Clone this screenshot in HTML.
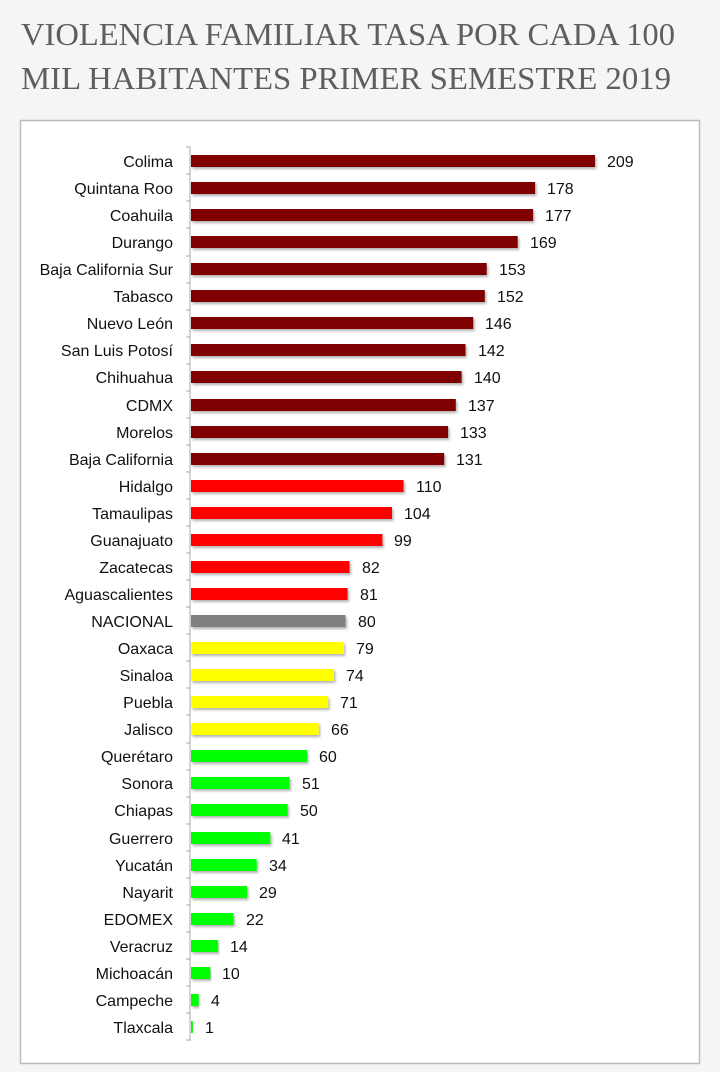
<!DOCTYPE html>
<html><head><meta charset="utf-8"><style>
html,body{margin:0;padding:0;background:#f5f5f5;}
svg{display:block}
</style></head><body>
<svg width="720" height="1072" xmlns="http://www.w3.org/2000/svg">
<defs><filter id="sh" x="-5%" y="-30%" width="110%" height="180%"><feDropShadow dx="1.5" dy="2" stdDeviation="1.2" flood-color="#000" flood-opacity="0.3"/></filter></defs>
<rect width="720" height="1072" fill="#f5f5f5"/>
<g font-family="Liberation Serif, serif" fill="#5e5e5e" font-size="32">
<text x="21" y="45" textLength="654" lengthAdjust="spacingAndGlyphs">VIOLENCIA FAMILIAR TASA POR CADA 100</text>
<text x="21" y="89" textLength="650" lengthAdjust="spacingAndGlyphs">MIL HABITANTES PRIMER SEMESTRE 2019</text>
</g>
<rect x="20.5" y="120.5" width="679" height="943" fill="#fff" stroke="#bbb" stroke-width="1.5"/>
<g stroke="#aaa" stroke-width="1">
<line x1="190" y1="147" x2="190" y2="1041"/>
<path d="M186 147H190M186 174H190M186 201H190M186 228H190M186 256H190M186 283H190M186 310H190M186 337H190M186 364H190M186 391H190M186 418H190M186 445H190M186 472H190M186 499H190M186 526H190M186 553H190M186 580H190M186 607H190M186 634H190M186 661H190M186 688H190M186 715H190M186 743H190M186 770H190M186 797H190M186 824H190M186 851H190M186 878H190M186 905H190M186 932H190M186 959H190M186 986H190M186 1013H190M186 1040H190"/>
</g>
<g font-family="Liberation Sans, sans-serif" font-size="16" fill="#111">
<g transform="translate(0,161)"><rect x="191" y="-6" width="404" height="12" fill="#7f0000" filter="url(#sh)"/><text x="173" y="6" text-anchor="end">Colima</text><text x="607" y="6">209</text></g>
<g transform="translate(0,188)"><rect x="191" y="-6" width="344.1" height="12" fill="#7f0000" filter="url(#sh)"/><text x="173" y="6" text-anchor="end">Quintana Roo</text><text x="547" y="6">178</text></g>
<g transform="translate(0,215)"><rect x="191" y="-6" width="342.1" height="12" fill="#7f0000" filter="url(#sh)"/><text x="173" y="6" text-anchor="end">Coahuila</text><text x="545" y="6">177</text></g>
<g transform="translate(0,242)"><rect x="191" y="-6" width="326.7" height="12" fill="#7f0000" filter="url(#sh)"/><text x="173" y="6" text-anchor="end">Durango</text><text x="530" y="6">169</text></g>
<g transform="translate(0,269)"><rect x="191" y="-6" width="295.7" height="12" fill="#7f0000" filter="url(#sh)"/><text x="173" y="6" text-anchor="end">Baja California Sur</text><text x="499" y="6">153</text></g>
<g transform="translate(0,296)"><rect x="191" y="-6" width="293.8" height="12" fill="#7f0000" filter="url(#sh)"/><text x="173" y="6" text-anchor="end">Tabasco</text><text x="497" y="6">152</text></g>
<g transform="translate(0,323)"><rect x="191" y="-6" width="282.2" height="12" fill="#7f0000" filter="url(#sh)"/><text x="173" y="6" text-anchor="end">Nuevo León</text><text x="485" y="6">146</text></g>
<g transform="translate(0,350)"><rect x="191" y="-6" width="274.5" height="12" fill="#7f0000" filter="url(#sh)"/><text x="173" y="6" text-anchor="end">San Luis Potosí</text><text x="478" y="6">142</text></g>
<g transform="translate(0,377)"><rect x="191" y="-6" width="270.6" height="12" fill="#7f0000" filter="url(#sh)"/><text x="173" y="6" text-anchor="end">Chihuahua</text><text x="474" y="6">140</text></g>
<g transform="translate(0,405)"><rect x="191" y="-6" width="264.8" height="12" fill="#7f0000" filter="url(#sh)"/><text x="173" y="6" text-anchor="end">CDMX</text><text x="468" y="6">137</text></g>
<g transform="translate(0,432)"><rect x="191" y="-6" width="257.1" height="12" fill="#7f0000" filter="url(#sh)"/><text x="173" y="6" text-anchor="end">Morelos</text><text x="460" y="6">133</text></g>
<g transform="translate(0,459)"><rect x="191" y="-6" width="253.2" height="12" fill="#7f0000" filter="url(#sh)"/><text x="173" y="6" text-anchor="end">Baja California</text><text x="456" y="6">131</text></g>
<g transform="translate(0,486)"><rect x="191" y="-6" width="212.6" height="12" fill="#ff0000" filter="url(#sh)"/><text x="173" y="6" text-anchor="end">Hidalgo</text><text x="416" y="6">110</text></g>
<g transform="translate(0,513)"><rect x="191" y="-6" width="201" height="12" fill="#ff0000" filter="url(#sh)"/><text x="173" y="6" text-anchor="end">Tamaulipas</text><text x="404" y="6">104</text></g>
<g transform="translate(0,540)"><rect x="191" y="-6" width="191.4" height="12" fill="#ff0000" filter="url(#sh)"/><text x="173" y="6" text-anchor="end">Guanajuato</text><text x="394" y="6">99</text></g>
<g transform="translate(0,567)"><rect x="191" y="-6" width="158.5" height="12" fill="#ff0000" filter="url(#sh)"/><text x="173" y="6" text-anchor="end">Zacatecas</text><text x="362" y="6">82</text></g>
<g transform="translate(0,594)"><rect x="191" y="-6" width="156.6" height="12" fill="#ff0000" filter="url(#sh)"/><text x="173" y="6" text-anchor="end">Aguascalientes</text><text x="360" y="6">81</text></g>
<g transform="translate(0,621)"><rect x="191" y="-6" width="154.6" height="12" fill="#808080" filter="url(#sh)"/><text x="173" y="6" text-anchor="end">NACIONAL</text><text x="358" y="6">80</text></g>
<g transform="translate(0,648)"><rect x="191" y="-6" width="152.7" height="12" fill="#ffff00" filter="url(#sh)"/><text x="173" y="6" text-anchor="end">Oaxaca</text><text x="356" y="6">79</text></g>
<g transform="translate(0,675)"><rect x="191" y="-6" width="143" height="12" fill="#ffff00" filter="url(#sh)"/><text x="173" y="6" text-anchor="end">Sinaloa</text><text x="346" y="6">74</text></g>
<g transform="translate(0,702)"><rect x="191" y="-6" width="137.2" height="12" fill="#ffff00" filter="url(#sh)"/><text x="173" y="6" text-anchor="end">Puebla</text><text x="340" y="6">71</text></g>
<g transform="translate(0,729)"><rect x="191" y="-6" width="127.6" height="12" fill="#ffff00" filter="url(#sh)"/><text x="173" y="6" text-anchor="end">Jalisco</text><text x="331" y="6">66</text></g>
<g transform="translate(0,756)"><rect x="191" y="-6" width="116" height="12" fill="#00ff00" filter="url(#sh)"/><text x="173" y="6" text-anchor="end">Querétaro</text><text x="319" y="6">60</text></g>
<g transform="translate(0,783)"><rect x="191" y="-6" width="98.6" height="12" fill="#00ff00" filter="url(#sh)"/><text x="173" y="6" text-anchor="end">Sonora</text><text x="302" y="6">51</text></g>
<g transform="translate(0,810)"><rect x="191" y="-6" width="96.7" height="12" fill="#00ff00" filter="url(#sh)"/><text x="173" y="6" text-anchor="end">Chiapas</text><text x="300" y="6">50</text></g>
<g transform="translate(0,838)"><rect x="191" y="-6" width="79.3" height="12" fill="#00ff00" filter="url(#sh)"/><text x="173" y="6" text-anchor="end">Guerrero</text><text x="282" y="6">41</text></g>
<g transform="translate(0,865)"><rect x="191" y="-6" width="65.7" height="12" fill="#00ff00" filter="url(#sh)"/><text x="173" y="6" text-anchor="end">Yucatán</text><text x="269" y="6">34</text></g>
<g transform="translate(0,892)"><rect x="191" y="-6" width="56.1" height="12" fill="#00ff00" filter="url(#sh)"/><text x="173" y="6" text-anchor="end">Nayarit</text><text x="259" y="6">29</text></g>
<g transform="translate(0,919)"><rect x="191" y="-6" width="42.5" height="12" fill="#00ff00" filter="url(#sh)"/><text x="173" y="6" text-anchor="end">EDOMEX</text><text x="246" y="6">22</text></g>
<g transform="translate(0,946)"><rect x="191" y="-6" width="27.1" height="12" fill="#00ff00" filter="url(#sh)"/><text x="173" y="6" text-anchor="end">Veracruz</text><text x="230" y="6">14</text></g>
<g transform="translate(0,973)"><rect x="191" y="-6" width="19.3" height="12" fill="#00ff00" filter="url(#sh)"/><text x="173" y="6" text-anchor="end">Michoacán</text><text x="222" y="6">10</text></g>
<g transform="translate(0,1000)"><rect x="191" y="-6" width="7.7" height="12" fill="#00ff00" filter="url(#sh)"/><text x="173" y="6" text-anchor="end">Campeche</text><text x="211" y="6">4</text></g>
<g transform="translate(0,1027)"><rect x="191" y="-6" width="1.9" height="12" fill="#00ff00"/><text x="173" y="6" text-anchor="end">Tlaxcala</text><text x="205" y="6">1</text></g>
</g>
</svg>
</body></html>
